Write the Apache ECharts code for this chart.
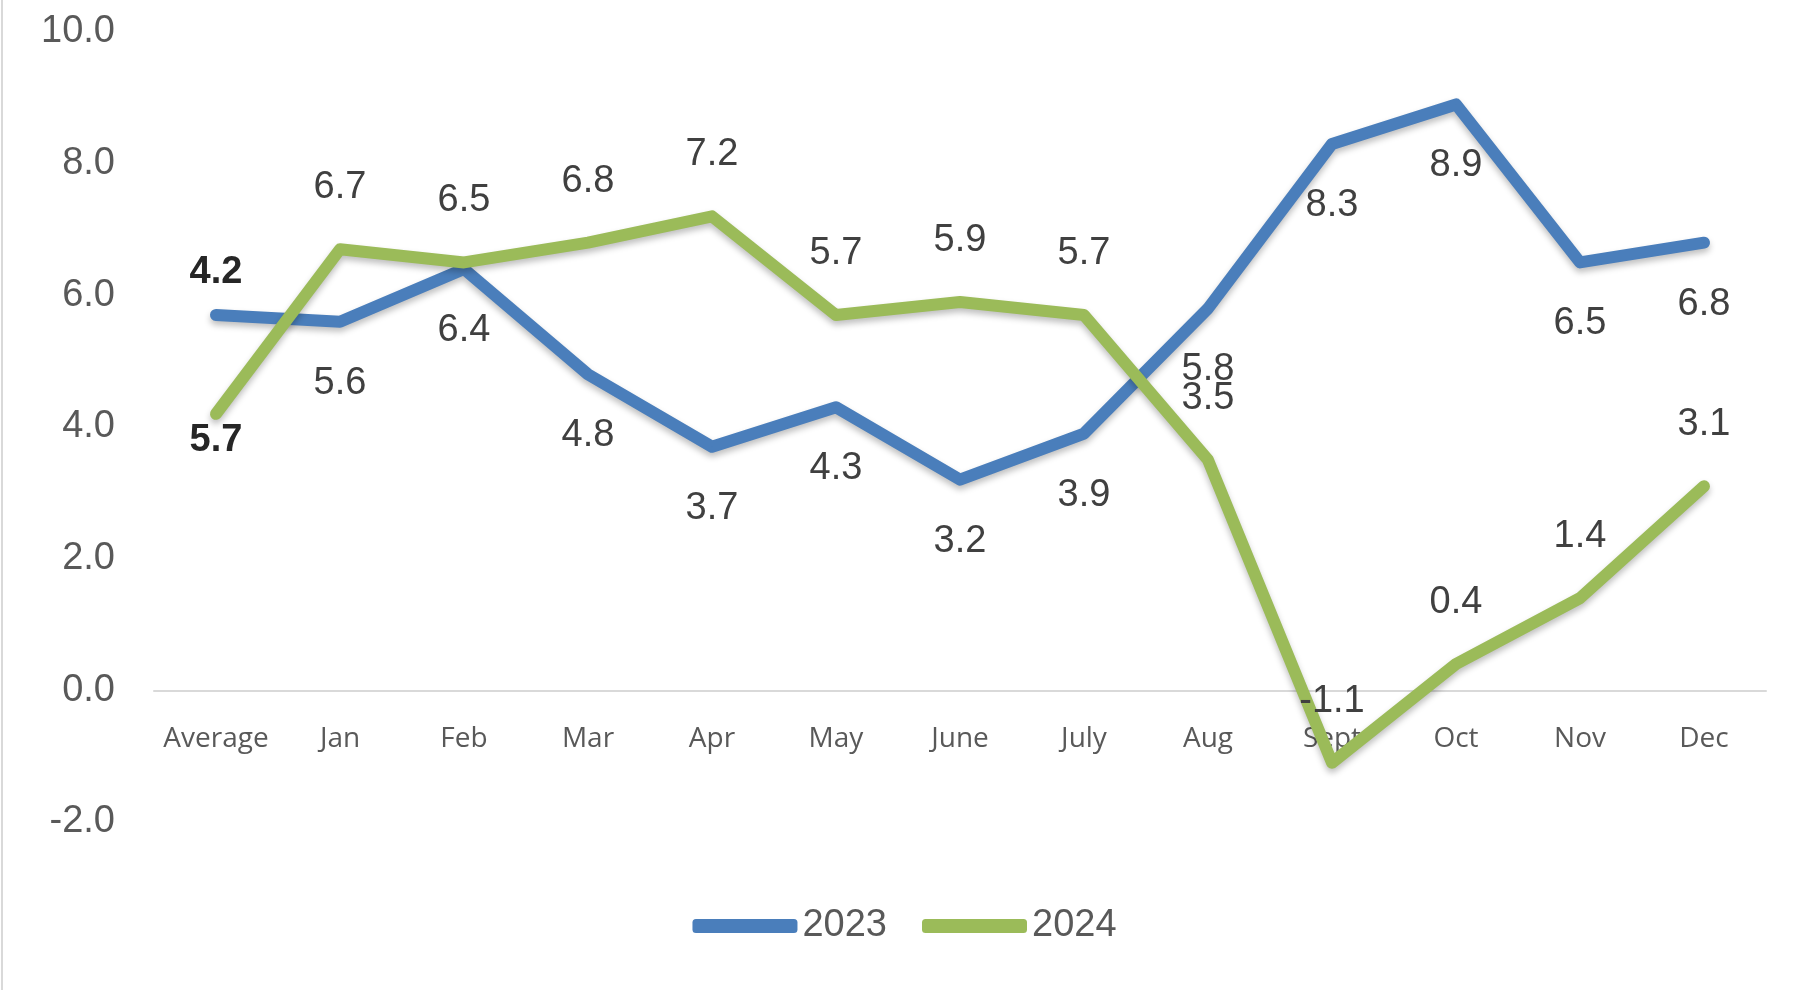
<!DOCTYPE html>
<html>
<head>
<meta charset="utf-8">
<script src="https://cdn.jsdelivr.net/npm/echarts@6/dist/echarts.min.js"></script>
<style>
  html, body { margin: 0; padding: 0; background: #fff; }
  #chart { width: 1809px; height: 990px; }
</style>
</head>
<body>
<div id="chart"></div>
<script>
const categories = ['Average', 'Jan', 'Feb', 'Mar', 'Apr', 'May', 'June', 'July', 'Aug', 'Sept', 'Oct', 'Nov', 'Dec'];
const values2023 = [5.7, 5.6, 6.4, 4.8, 3.7, 4.3, 3.2, 3.9, 5.8, 8.3, 8.9, 6.5, 6.8];
const values2024 = [4.2, 6.7, 6.5, 6.8, 7.2, 5.7, 5.9, 5.7, 3.5, -1.1, 0.4, 1.4, 3.1];

const labelColor = '#404040';
const numFont = 'Liberation Sans';

// the Average labels sit far from their points and are bold
function buildData(vals, isTop) {
  return vals.map((v, i) => {
    if (i !== 0) return v;
    return {
      value: v,
      label: {
        fontWeight: 'bold',
        color: '#262626',
        distance: isTop ? 122 : 106
      }
    };
  });
}

function lineSeries(name, vals, color, isTop) {
  return {
    name: name,
    type: 'line',
    data: buildData(vals, isTop),
    symbol: 'circle',
    symbolSize: 1,
    itemStyle: { color: color },
    lineStyle: {
      width: 12,
      color: color,
      cap: 'round',
      join: 'round',
      shadowColor: 'rgba(0,0,0,0.25)',
      shadowBlur: 6,
      shadowOffsetY: 4
    },
    label: {
      show: true,
      position: isTop ? 'top' : 'bottom',
      distance: 42,
      fontSize: 38,
      fontFamily: numFont,
      color: labelColor,
      formatter: p => p.value.toFixed(1)
    },
    emphasis: { disabled: true },
    z: isTop ? 3 : 2
  };
}

const chart = echarts.init(document.getElementById('chart'));
chart.setOption({
  animation: false,
  color: ['#4a7ebb', '#9bbb59'],
  grid: { left: 154, right: 43, top: 32, bottom: 168 },
  legend: {
    left: 'center',
    top: 902,
    icon: 'roundRect',
    itemWidth: 105,
    itemHeight: 14,
    itemGap: 35,
    textStyle: { fontSize: 38, fontFamily: numFont, color: '#595959' },
    data: ['2023', '2024']
  },
  xAxis: {
    type: 'category',
    data: categories,
    // sits on the zero line: 2 units of 65.9px above the grid bottom
    offset: -131,
    axisLine: { onZero: false, lineStyle: { color: '#d9d9d9', width: 2 } },
    axisTick: { show: false },
    axisLabel: { fontSize: 28, fontFamily: 'Open Sans', color: '#595959', margin: 34, interval: 0 }
  },
  yAxis: {
    type: 'value',
    min: -2,
    max: 10,
    interval: 2,
    splitLine: { show: false },
    axisLine: { show: false },
    axisTick: { show: false },
    axisLabel: {
      fontSize: 38,
      fontFamily: numFont,
      color: '#595959',
      margin: 39,
      formatter: v => v.toFixed(1)
    }
  },
  graphic: [{
    type: 'line',
    shape: { x1: 2, y1: 0, x2: 2, y2: 990 },
    style: { stroke: '#d9d9d9', lineWidth: 2 }
  }],
  series: [
    lineSeries('2023', values2023, '#4a7ebb', false),
    lineSeries('2024', values2024, '#9bbb59', true)
  ]
});
</script>
</body>
</html>
